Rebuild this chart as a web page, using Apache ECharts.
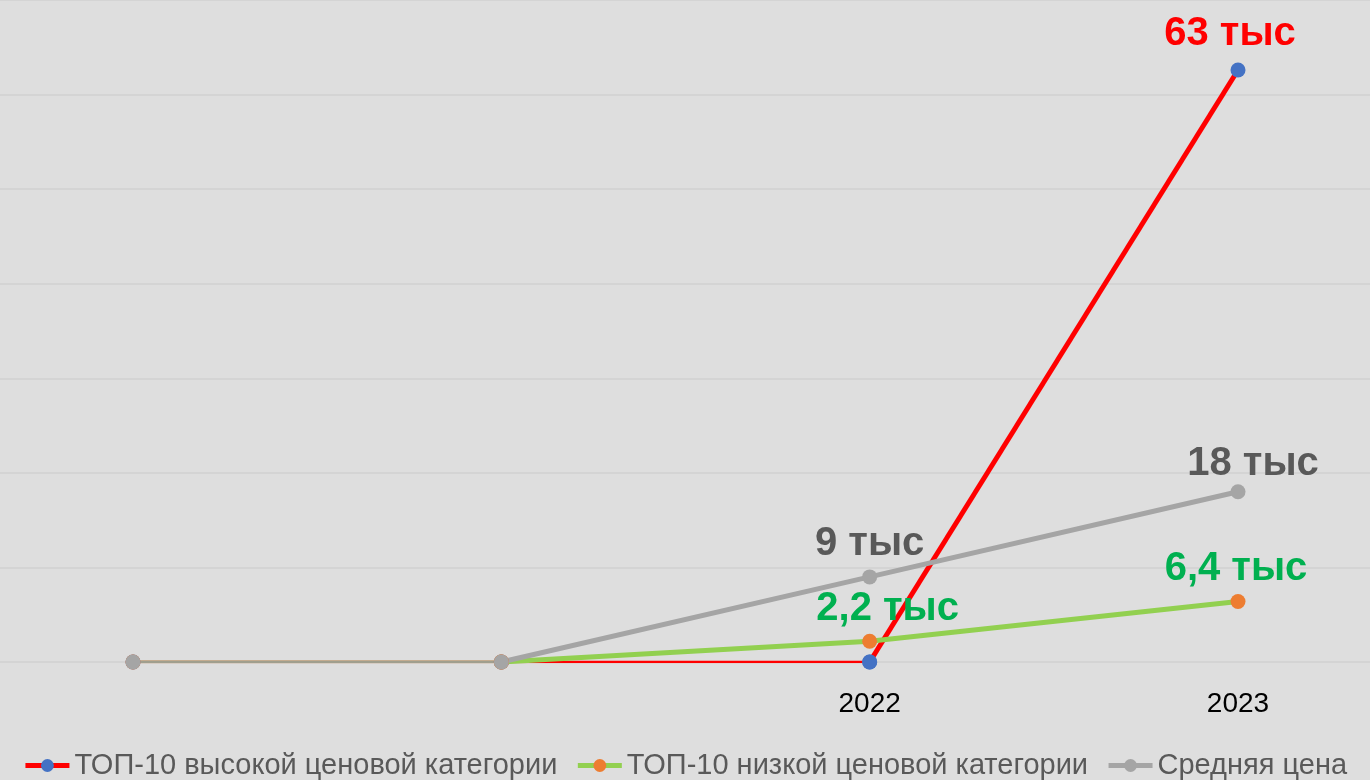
<!DOCTYPE html>
<html>
<head>
<meta charset="utf-8">
<script src="https://cdn.jsdelivr.net/npm/echarts@6/dist/echarts.min.js"></script>
<style>
html,body{margin:0;padding:0;background:#dedede;}
#chart{width:1370px;height:780px;}
</style>
</head>
<body>
<div id="chart"></div>
<script>
const categories = ['', '', '2022', '2023'];
const seriesNames = ['ТОП-10 высокой ценовой категории', 'ТОП-10 низкой ценовой категории', 'Средняя цена'];
const highTop10 = [0, 0, 0, 62600];
const lowTop10 = [0, 0, 2200, 6400];
const avgPrice = [0, 0, 9000, 18000];
const highLabels = ['', '', '', '63 тыс'];
const lowLabels = ['', '', '2,2 тыс', '6,4 тыс'];
const avgLabels = ['', '', '9 тыс', '18 тыс'];

// label placement tweaks (style, px)
const highNudge = [[0, 0], [0, 0], [0, 0], [-8, -4]];
const lowNudge = [[0, 0], [0, 0], [18, 0], [-2, 0]];
const avgNudge = [[0, 0], [0, 0], [0, 0], [15, 5]];

const FONT = '"Liberation Sans", Arial, sans-serif';

function isFlat(v, i) { return v[i] === 0 && v[i + 1] === 0; }
function splitSeries(v) {
  const n = v.length, thick = [], thin = [];
  for (let i = 0; i < n; i++) {
    const thickSeg = (i > 0 && !isFlat(v, i - 1)) || (i < n - 1 && !isFlat(v, i));
    const thinSeg = (i > 0 && isFlat(v, i - 1)) || (i < n - 1 && isFlat(v, i));
    thick.push(thickSeg ? v[i] : null);
    thin.push(thinSeg ? v[i] : null);
  }
  return { thick, thin };
}

const defs = [
  { name: seriesNames[0], values: highTop10, labels: highLabels, nudge: highNudge, line: '#ff0000', marker: '#4472c4', text: '#ff0000', thinColor: '#ff0000' },
  { name: seriesNames[1], values: lowTop10, labels: lowLabels, nudge: lowNudge, line: '#92d050', marker: '#ed7d31', text: '#00b050', thinColor: '#92d050' },
  { name: seriesNames[2], values: avgPrice, labels: avgLabels, nudge: avgNudge, line: '#a5a5a5', marker: '#a5a5a5', text: '#595959', thinColor: '#a09f8e' }
];

const series = [];
defs.forEach(d => {
  const s = splitSeries(d.values);
  series.push({
    name: d.name + ' ',
    type: 'line',
    data: s.thin,
    symbol: 'circle',
    symbolSize: 15,
    showSymbol: true,
    silent: true,
    connectNulls: false,
    itemStyle: { color: d.marker },
    lineStyle: { color: d.thinColor, width: 2.5 },
    label: { show: false }
  });
});
defs.forEach(d => {
  const s = splitSeries(d.values);
  series.push({
    name: d.name,
    type: 'line',
    data: s.thick.map((v, i) => ({ value: v, label: { offset: d.nudge[i] } })),
    symbol: 'circle',
    symbolSize: 15,
    showSymbol: true,
    connectNulls: false,
    itemStyle: { color: d.marker },
    lineStyle: { color: d.line, width: 5 },
    label: {
      show: true,
      position: 'top',
      distance: 5,
      formatter: p => d.labels[p.dataIndex],
      color: d.text,
      fontSize: 40,
      fontWeight: 'bold',
      fontFamily: FONT
    }
  });
});

const chart = echarts.init(document.getElementById('chart'));
chart.setOption({
  animation: false,
  backgroundColor: '#dedede',
  grid: [
    { left: 133, right: 132, top: -3, bottom: 118 },
    { left: 0, right: 0, top: -3, bottom: 118 }
  ],
  xAxis: [
    {
      type: 'category',
      data: categories,
      boundaryGap: false,
      axisLine: { show: false },
      axisTick: { show: false },
      splitLine: { show: false },
      axisLabel: { color: '#000000', fontSize: 28, fontFamily: FONT, margin: 28 }
    },
    { gridIndex: 1, type: 'value', min: 0, max: 1, show: false }
  ],
  yAxis: [
    {
      type: 'value',
      min: 0,
      max: 70000,
      interval: 10000,
      axisLine: { show: false },
      axisTick: { show: false },
      axisLabel: { show: false },
      splitLine: { show: false }
    },
    {
      gridIndex: 1,
      type: 'value',
      min: 0,
      max: 70000,
      interval: 10000,
      axisLine: { show: false },
      axisTick: { show: false },
      axisLabel: { show: false },
      splitLine: { show: true, lineStyle: { color: '#d4d4d4', width: 2 } }
    }
  ],
  legend: {
    data: seriesNames,
    left: 'center',
    top: 746,
    itemWidth: 44,
    itemHeight: 16,
    itemGap: 18,
    lineStyle: { width: 5 },
    textStyle: { color: '#595959', fontSize: 29, fontFamily: FONT }
  },
  series: series
});
</script>
</body>
</html>
